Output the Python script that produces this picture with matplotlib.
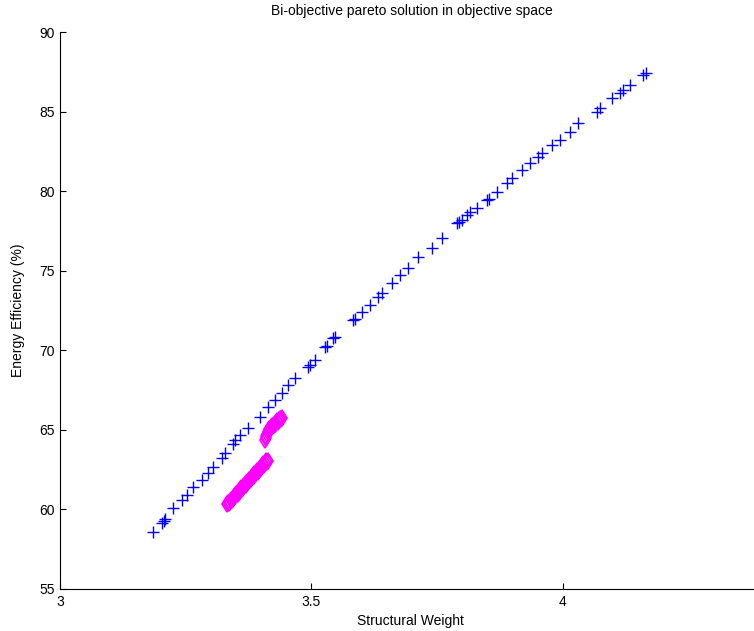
import matplotlib
matplotlib.use("Agg")
import matplotlib.pyplot as plt

# front (Structural Weight, Energy Efficiency %)
pareto_w = [3.185, 3.203, 3.206, 3.209, 3.225, 3.243, 3.252, 3.264, 3.282, 3.294,
            3.304, 3.322, 3.328, 3.344, 3.348, 3.358, 3.374, 3.398, 3.414, 3.427,
            3.441, 3.453, 3.467, 3.493, 3.497, 3.507, 3.527, 3.530, 3.543, 3.546,
            3.583, 3.586, 3.600, 3.616, 3.632, 3.640, 3.660, 3.676, 3.692, 3.712,
            3.740, 3.759, 3.789, 3.793, 3.799, 3.809, 3.815, 3.829, 3.849, 3.852,
            3.869, 3.889, 3.899, 3.918, 3.934, 3.950, 3.958, 3.978, 3.994, 4.014,
            4.030, 4.068, 4.074, 4.097, 4.113, 4.119, 4.133, 4.159, 4.165]
pareto_e = [58.58, 59.15, 59.28, 59.40, 60.09, 60.59, 60.91, 61.41, 61.85, 62.29,
            62.67, 63.24, 63.55, 64.11, 64.36, 64.68, 65.12, 65.81, 66.44, 66.88,
            67.32, 67.82, 68.26, 68.95, 69.10, 69.39, 70.21, 70.30, 70.77, 70.85,
            71.90, 71.97, 72.41, 72.85, 73.35, 73.60, 74.23, 74.73, 75.17, 75.86,
            76.43, 77.06, 78.00, 78.06, 78.19, 78.50, 78.69, 78.94, 79.44, 79.52,
            79.95, 80.51, 80.83, 81.33, 81.77, 82.15, 82.40, 82.90, 83.21, 83.72,
            84.28, 84.97, 85.22, 85.85, 86.17, 86.36, 86.67, 87.30, 87.42]

# magenta cluster, lower band
low_w = [3.333, 3.334, 3.336, 3.338, 3.339, 3.341, 3.343, 3.345, 3.346, 3.348,
         3.350, 3.351, 3.353, 3.355, 3.356, 3.358, 3.360, 3.361, 3.364, 3.365,
         3.366, 3.369, 3.370, 3.371, 3.374, 3.375, 3.377, 3.379, 3.381, 3.382,
         3.385, 3.386, 3.388, 3.390, 3.392, 3.393, 3.396, 3.397, 3.399, 3.402,
         3.404, 3.405, 3.408, 3.409, 3.411, 3.413]
low_e = [60.31, 60.43, 60.42, 60.49, 60.62, 60.59, 60.66, 60.80, 60.76, 60.83,
         60.97, 60.94, 61.00, 61.14, 61.11, 61.18, 61.32, 61.28, 61.38, 61.50,
         61.45, 61.56, 61.67, 61.63, 61.73, 61.86, 61.83, 61.90, 62.04, 62.01,
         62.11, 62.24, 62.21, 62.28, 62.42, 62.38, 62.49, 62.62, 62.59, 62.70,
         62.84, 62.80, 62.90, 63.04, 63.01, 63.07]

# magenta cluster, upper band
up_w = [3.408, 3.409, 3.410, 3.411, 3.413, 3.415, 3.416, 3.418, 3.420, 3.422,
        3.423, 3.425, 3.427, 3.428, 3.430, 3.432, 3.433, 3.436, 3.437, 3.439, 3.442]
up_e = [64.36, 64.50, 64.62, 64.75, 64.88, 64.97, 65.05, 65.07, 65.14, 65.22,
        65.23, 65.30, 65.38, 65.39, 65.45, 65.53, 65.52, 65.60, 65.66, 65.67, 65.73]

fig = plt.figure(figsize=(7.54, 6.31), dpi=100)
ax = fig.add_axes([60 / 754, 42 / 631, 694 / 754, 557 / 631])

ax.plot(pareto_w, pareto_e, linestyle="none", marker="+", color=(0, 0, 1),
        markersize=8, markeredgewidth=1.0)
ax.plot(low_w, low_e, linestyle="none", marker="d", color=(1, 0, 1),
        markerfacecolor="none", markersize=8, markeredgewidth=1.2)
ax.plot(up_w, up_e, linestyle="none", marker="d", color=(1, 0, 1),
        markerfacecolor="none", markersize=8, markeredgewidth=1.2)

ax.set_xlim(3, 3 + 694 / 503)
ax.set_ylim(55, 90)
ax.set_xticks([3, 3.5, 4])
ax.set_xticklabels(["3", "3.5", "4"])
ax.set_yticks([55, 60, 65, 70, 75, 80, 85, 90])

fnt = "Liberation Sans"
for lab in ax.get_xticklabels() + ax.get_yticklabels():
    lab.set_family(fnt)
    lab.set_fontsize(10)
ax.tick_params(direction="in", length=4, width=0.8, pad=4)
ax.spines["top"].set_visible(False)
ax.spines["right"].set_visible(False)

ax.set_title("Bi-objective pareto solution in objective space", family=fnt,
             fontsize=10, pad=12)
ax.title.set_position(((412 - 60) / 694, 1.0))
ax.set_xlabel("Structural Weight", family=fnt, fontsize=10)
ax.xaxis.set_label_coords((410 - 60) / 694, -0.045)
ax.set_ylabel("Energy Efficiency (%)", family=fnt, fontsize=10)
ax.yaxis.set_label_coords(-0.05, 0.5)

fig.savefig("out.png", dpi=100)
